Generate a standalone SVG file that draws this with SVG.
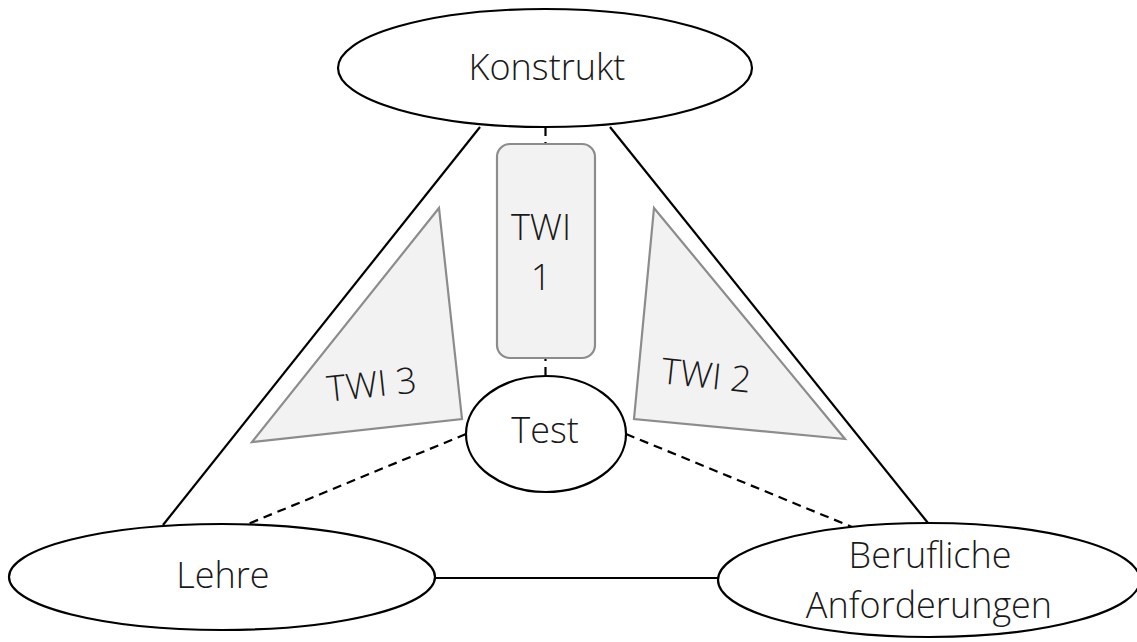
<svg xmlns="http://www.w3.org/2000/svg" width="1137" height="642" viewBox="0 0 1137 642">
<style>
.n{fill:#fff;stroke:#000;stroke-width:2.2}
.t{font-family:"Open Sans","Liberation Sans",sans-serif;font-weight:300;font-size:36px;fill:#1a1a1a;text-anchor:middle}
.s{stroke:#000;stroke-width:2.2;fill:none}
.d{stroke:#000;stroke-width:2.2;fill:none;stroke-dasharray:9 6}
.g{fill:#f2f2f2;stroke:#8c8c8c;stroke-width:2.2}
</style>
<rect width="1137" height="642" fill="#fff"/>
<g id="connectors">
<line class="s" x1="480" y1="127" x2="163" y2="525"/>
<line class="s" x1="610" y1="127" x2="928" y2="523"/>
<line class="s" x1="435" y1="578" x2="718" y2="578"/>
<line class="d" x1="545.5" y1="127" x2="545.5" y2="376"/>
<line class="d" x1="466" y1="434" x2="248" y2="524"/>
<line class="d" x1="626" y1="434" x2="852" y2="527"/>
</g>
<g id="konstrukt">
<ellipse class="n" cx="545" cy="68" rx="207" ry="59"/>
<text class="t" x="547" y="80">Konstrukt</text>
</g>
<g id="twi1">
<rect class="g" x="497" y="144" width="98" height="214" rx="13"/>
<text class="t" x="541" y="240">TWI</text>
<text class="t" x="541" y="290">1</text>
</g>
<g id="twi3">
<polygon class="g" points="439,208 252,442 462,419"/>
<text class="t" transform="translate(373,397) rotate(-6)" x="0" y="0">TWI 3</text>
</g>
<g id="twi2">
<polygon class="g" points="654,208 634,419 845,439"/>
<text class="t" transform="translate(705,388) rotate(6)" x="0" y="0">TWI 2</text>
</g>
<g id="test">
<ellipse class="n" cx="546" cy="434" rx="80" ry="58"/>
<text class="t" x="545" y="443">Test</text>
</g>
<g id="lehre">
<ellipse class="n" cx="222" cy="577" rx="213" ry="53"/>
<text class="t" x="223" y="588">Lehre</text>
</g>
<g id="berufliche">
<ellipse class="n" cx="929" cy="580" rx="211" ry="57"/>
<text class="t" x="930" y="568">Berufliche</text>
<text class="t" x="929" y="618">Anforderungen</text>
</g>
</svg>
